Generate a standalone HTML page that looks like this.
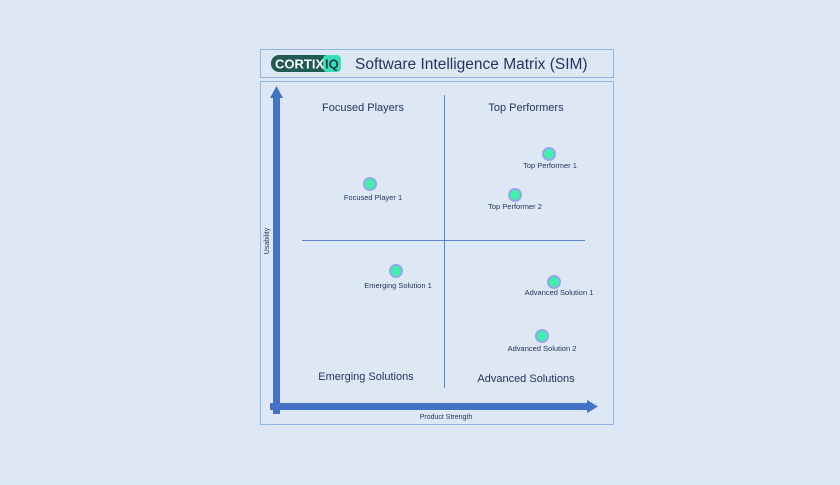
<!DOCTYPE html>
<html><head><style>
body{margin:0;width:840px;height:480px;background:#dde8f5;font-family:"Liberation Sans",sans-serif;overflow:hidden}
</style></head><body>
<svg width="840" height="480" xmlns="http://www.w3.org/2000/svg" font-family="Liberation Sans, sans-serif">
<rect x="0" y="0" width="840" height="480" fill="#dee8f4"/>
<rect x="260.5" y="49.5" width="353" height="28" fill="#dee8f4" stroke="#8fb4e6" stroke-width="1"/>
<rect x="260.5" y="81.5" width="353" height="343" fill="#dee8f4" stroke="#8fb4e6" stroke-width="1"/>
<rect x="271" y="55" width="70" height="17" rx="8" fill="#1f5a55"/>
<rect x="323" y="55" width="18" height="17" rx="4" fill="#35e0b8"/>
<text x="275" y="68.5" font-size="13" font-weight="bold" fill="#fff">CORTIX</text>
<text x="325" y="68.5" font-size="13" font-weight="bold" fill="#1f3a4a">IQ</text>
<text x="355" y="69" font-size="15.5" fill="#24345e">Software Intelligence Matrix (SIM)</text>
<line x1="444.5" y1="95" x2="444.5" y2="388" stroke="#5b86d6" stroke-width="1"/>
<line x1="302" y1="240.5" x2="585" y2="240.5" stroke="#5b86d6" stroke-width="1"/>
<rect x="273" y="97" width="7" height="317" fill="#4472c4"/>
<polygon points="276.5,86 270,98 283,98" fill="#4472c4"/>
<rect x="270" y="403" width="318" height="7" fill="#4472c4"/>
<polygon points="598,406.5 587,400 587,413" fill="#4472c4"/>
<text x="363" y="111" font-size="11" fill="#24345e" text-anchor="middle">Focused Players</text>
<text x="526" y="111" font-size="11" fill="#24345e" text-anchor="middle">Top Performers</text>
<text x="366" y="380" font-size="11" fill="#24345e" text-anchor="middle">Emerging Solutions</text>
<text x="526" y="382" font-size="11" fill="#24345e" text-anchor="middle">Advanced Solutions</text>
<text x="446" y="419" font-size="7" fill="#24345e" text-anchor="middle">Product Strength</text>
<text transform="translate(269,241) rotate(-90)" font-size="7" fill="#24345e" text-anchor="middle">Usability</text>
<g fill="#3ef0a8" stroke="#93a8f0" stroke-width="2">
<circle cx="370" cy="184" r="6"/>
<circle cx="549" cy="154" r="6"/>
<circle cx="515" cy="195" r="6"/>
<circle cx="396" cy="271" r="6"/>
<circle cx="554" cy="282" r="6"/>
<circle cx="542" cy="336" r="6"/>
</g>
<g font-size="7.5" fill="#24345e" text-anchor="middle">
<text x="373" y="200">Focused Player 1</text>
<text x="550" y="168">Top Performer 1</text>
<text x="515" y="209">Top Performer 2</text>
<text x="398" y="288">Emerging Solution 1</text>
<text x="559" y="295">Advanced Solution 1</text>
<text x="542" y="351">Advanced Solution 2</text>
</g>
</svg>
</body></html>
